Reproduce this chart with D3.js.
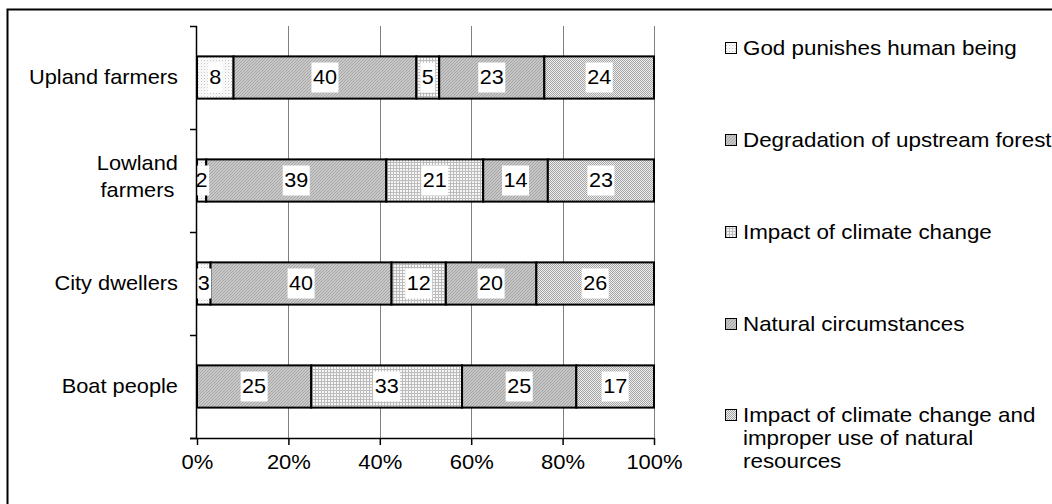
<!DOCTYPE html>
<html>
<head>
<meta charset="utf-8">
<script src="https://cdn.jsdelivr.net/npm/d3@7"></script>
<style>
  html, body { margin: 0; padding: 0; background: #fff; }
  svg { display: block; font-family: "Liberation Sans", Arial, sans-serif; }
</style>
</head>
<body>
<svg id="chart" width="1052" height="504"></svg>
<script>
// Groups of respondents, top to bottom
const groups = ["Upland farmers", "Lowland farmers", "City dwellers", "Boat people"];
const groupLines = [["Upland farmers"], ["Lowland", "farmers"], ["City dwellers"], ["Boat people"]];

// Perceived causes (stack order, left to right)
const causes = [
  "God punishes human being",
  "Degradation of upstream forest",
  "Impact of climate change",
  "Natural circumstances",
  "Impact of climate change and improper use of natural resources"
];
const causeLegendLines = [
  ["God punishes human being"],
  ["Degradation of upstream forest"],
  ["Impact of climate change"],
  ["Natural circumstances"],
  ["Impact of climate change and", "improper use of natural", "resources"]
];

// Percentages per cause, one value per group (same order as groups)
const godPunishes   = [8, 2, 3, 0];
const degradation   = [40, 39, 40, 25];
const climateChange = [5, 21, 12, 33];
const natural       = [23, 14, 20, 25];
const climateMisuse = [24, 23, 26, 17];

const xTicks = [0, 0.2, 0.4, 0.6, 0.8, 1];

const seriesValues = [godPunishes, degradation, climateChange, natural, climateMisuse];

const svg = d3.select("#chart");
const defs = svg.append("defs");

const FONT = 20;
// Widen text horizontally about its anchor point
function stretch(sel, ax, s) {
  sel.attr("transform", `translate(${ax},0) scale(${s},1) translate(${-ax},0)`);
}

// Fill patterns for each cause
function dotsPattern(id) {
  const p = defs.append("pattern").attr("id", id).attr("patternUnits", "userSpaceOnUse")
    .attr("width", 3).attr("height", 3);
  p.append("rect").attr("width", 3).attr("height", 3).attr("fill", "#fbfbfb");
  p.append("rect").attr("x", 0).attr("y", 0).attr("width", 1).attr("height", 1).attr("fill", "#c4c4c4");
  p.append("rect").attr("x", 1.5).attr("y", 1.5).attr("width", 1).attr("height", 1).attr("fill", "#e0e0e0");
}
function diagPattern(id, bg, fg) {
  const p = defs.append("pattern").attr("id", id).attr("patternUnits", "userSpaceOnUse")
    .attr("width", 3).attr("height", 3);
  p.append("rect").attr("width", 3).attr("height", 3).attr("fill", bg);
  p.append("path").attr("d", "M0,3 L3,0 M-1,1 L1,-1 M2,4 L4,2")
    .attr("stroke", fg).attr("stroke-width", 0.7);
}
function gridPattern(id) {
  const p = defs.append("pattern").attr("id", id).attr("patternUnits", "userSpaceOnUse")
    .attr("width", 3).attr("height", 3);
  p.append("rect").attr("width", 3).attr("height", 3).attr("fill", "#f6f6f6");
  p.append("rect").attr("x", 0).attr("y", 0).attr("width", 3).attr("height", 1).attr("fill", "#bcbcbc");
  p.append("rect").attr("x", 0).attr("y", 0).attr("width", 1).attr("height", 3).attr("fill", "#bcbcbc");
}
function checkerPattern(id) {
  const p = defs.append("pattern").attr("id", id).attr("patternUnits", "userSpaceOnUse")
    .attr("width", 2).attr("height", 2);
  p.append("rect").attr("width", 2).attr("height", 2).attr("fill", "#eeeeee");
  p.append("rect").attr("x", 0).attr("y", 0).attr("width", 1).attr("height", 1).attr("fill", "#a4a4a4");
  p.append("rect").attr("x", 1).attr("y", 1).attr("width", 1).attr("height", 1).attr("fill", "#a4a4a4");
}
dotsPattern("pat0");
diagPattern("pat1", "#c8c8c8", "#999999");
gridPattern("pat2");
diagPattern("pat3", "#c6c6c6", "#969696");
checkerPattern("pat4");
const fills = causes.map((c, i) => `url(#pat${i})`);

// Outer frame (right and bottom edges sit past the canvas)
svg.append("rect").attr("x", 7.5).attr("y", 9.5).attr("width", 1060).attr("height", 510)
  .attr("fill", "none").attr("stroke", "#000").attr("stroke-width", 2);

const plot = { left: 197, right: 654, top: 26, bottom: 438 };

const x = d3.scaleLinear().domain([0, 1]).range([plot.left, plot.right]);
const y = d3.scaleBand().domain(groups).range([plot.top, plot.bottom]).paddingInner(0.59).paddingOuter(0.295);

// Vertical gridlines
svg.append("g").selectAll("line").data(xTicks.slice(1)).join("line")
  .attr("x1", d => Math.round(x(d)) + 0.5).attr("x2", d => Math.round(x(d)) + 0.5)
  .attr("y1", plot.top).attr("y2", plot.bottom)
  .attr("stroke", "#808080").attr("stroke-width", 1);

// 100% stacked data
const table = groups.map((g, gi) => {
  const row = { group: g };
  causes.forEach((c, ci) => { row[c] = seriesValues[ci][gi]; });
  return row;
});
const stacked = d3.stack().keys(causes).offset(d3.stackOffsetExpand)(table);

const barsG = svg.append("g");
stacked.forEach((layer, li) => {
  barsG.selectAll(null).data(layer.filter(d => d[1] - d[0] > 0)).join("rect")
    .attr("x", d => x(d[0]))
    .attr("y", d => y(d.data.group))
    .attr("width", d => x(d[1]) - x(d[0]))
    .attr("height", y.bandwidth())
    .attr("fill", fills[li])
    .attr("stroke", "#000").attr("stroke-width", 2);
});

// Value labels with white backing
const labelsG = svg.append("g");
stacked.forEach((layer) => {
  layer.filter(d => d[1] - d[0] > 0).forEach(d => {
    const v = d.data[layer.key];
    const cx = (x(d[0]) + x(d[1])) / 2;
    const cy = y(d.data.group) + y.bandwidth() / 2;
    const t = labelsG.append("text").attr("x", cx).attr("y", cy + 7)
      .attr("text-anchor", "middle").attr("font-size", FONT).attr("fill", "#000").text(v);
    const w = t.node().getBBox().width * 1.08;
    stretch(t, cx, 1.08);
    labelsG.insert("rect", () => t.node())
      .attr("x", cx - w / 2 - 1.5).attr("y", cy - 15).attr("width", w + 3).attr("height", 30)
      .attr("fill", "#fff");
  });
});

// X axis
const xAxis = d3.axisBottom(x).tickValues(xTicks).tickFormat(d3.format(".0%")).tickSize(7).tickPadding(10);
const xg = svg.append("g").attr("transform", `translate(0,${plot.bottom})`).call(xAxis);
xg.select(".domain").attr("d", `M${plot.left - 7},0.5H${plot.right}`).attr("stroke", "#000").attr("stroke-width", 1.5);
xg.selectAll(".tick line").attr("stroke", "#000").attr("stroke-width", 1.5);
xg.selectAll(".tick text").attr("font-size", FONT).attr("fill", "#000")
  .attr("font-family", "Liberation Sans, Arial, sans-serif")
  .each(function () { stretch(d3.select(this), 0, 1.1); });

// Y axis: line plus ticks at category boundaries
const yg = svg.append("g");
yg.append("line").attr("x1", plot.left - 0.5).attr("x2", plot.left - 0.5)
  .attr("y1", plot.top).attr("y2", plot.bottom).attr("stroke", "#000").attr("stroke-width", 1.5);
const bounds = groups.map(g => y(g) - y.step() * y.paddingInner() / 2).concat([plot.bottom]);
yg.selectAll("line.tk").data(bounds).join("line").attr("class", "tk")
  .attr("x1", plot.left - 7).attr("x2", plot.left)
  .attr("y1", d => Math.round(d) + 0.5).attr("y2", d => Math.round(d) + 0.5)
  .attr("stroke", "#000").attr("stroke-width", 1.5);

// Group labels
groups.forEach((g, gi) => {
  const lines = groupLines[gi];
  const cy = y(g) + y.bandwidth() / 2;
  const lh = 27;
  const startY = cy + 7 - (lines.length - 1) * lh / 2 - (lines.length > 1 ? 4 : 0);
  const t = svg.append("text").attr("font-size", FONT).attr("fill", "#000").attr("text-anchor", "middle");
  lines.forEach((ln, li) => {
    t.append("tspan").attr("x", 0).attr("y", startY + li * lh).text(ln);
  });
  const w = t.node().getBBox().width * 1.09;
  const cx = 178 - w / 2;
  t.selectAll("tspan").attr("x", cx);
  stretch(t, cx, 1.09);
});

// Legend
const legendRows = [48, 140, 232, 324, 415];
const lg = svg.append("g");
causes.forEach((c, i) => {
  const ry = legendRows[i];
  lg.append("rect").attr("x", 725.5).attr("y", ry - 5.5).attr("width", 11).attr("height", 11)
    .attr("fill", fills[i]).attr("stroke", "#000").attr("stroke-width", 1);
  const t = lg.append("text").attr("font-size", FONT).attr("fill", "#000");
  causeLegendLines[i].forEach((ln, li) => {
    t.append("tspan").attr("x", 743).attr("y", ry + 7 + li * 23).text(ln);
  });
  stretch(t, 743, 1.12);
});
</script>
</body>
</html>
